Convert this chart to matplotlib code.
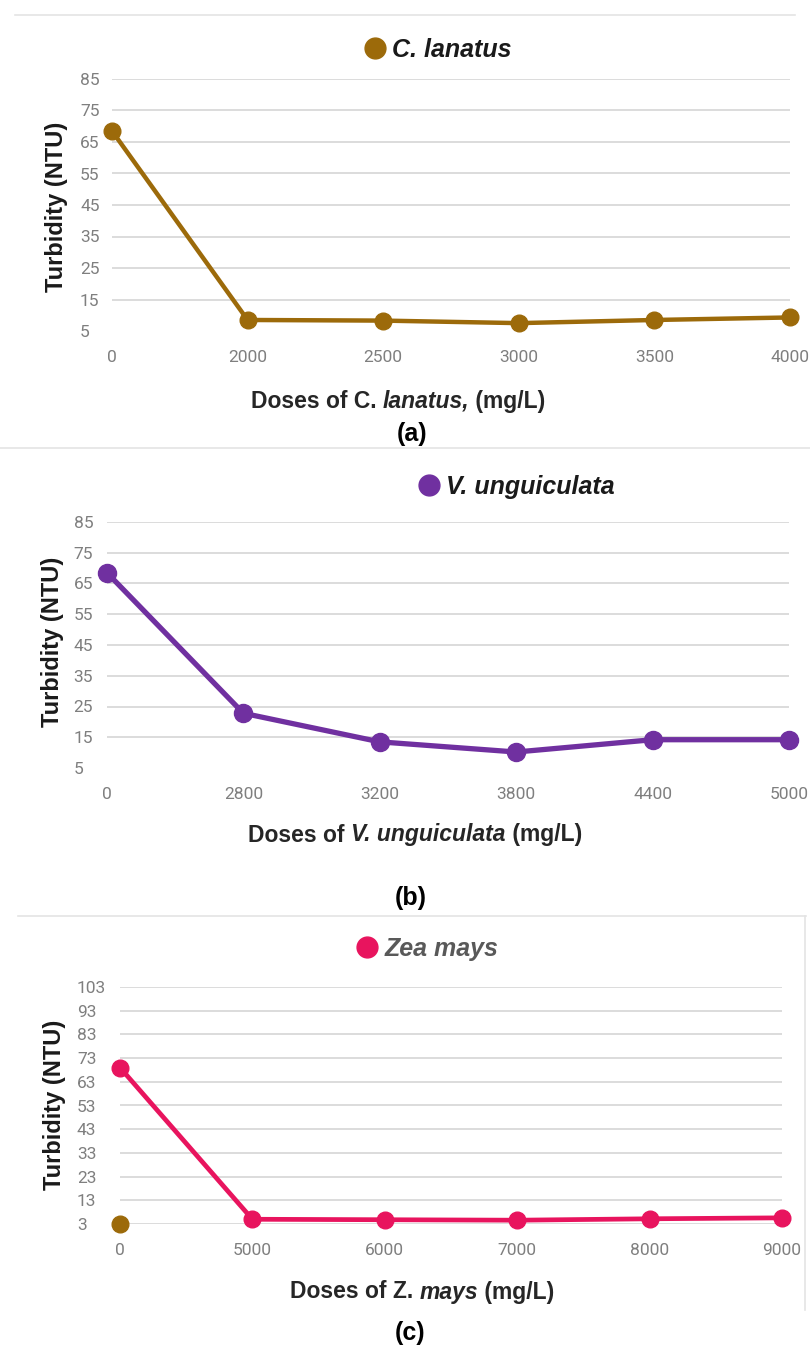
import matplotlib.pyplot as plt
from matplotlib.lines import Line2D

# panel (a) C. lanatus
doses_a = ['0', '2000', '2500', '3000', '3500', '4000']
turb_a = [68.5, 8.5, 8.3, 7.5, 8.5, 9.3]
yticks_a = [5, 15, 25, 35, 45, 55, 65, 75, 85]

# panel (b) V. unguiculata
doses_b = ['0', '2800', '3200', '3800', '4400', '5000']
turb_b = [68.5, 22.8, 13.5, 10.2, 14.2, 14.2]
yticks_b = [5, 15, 25, 35, 45, 55, 65, 75, 85]

# panel (c) Zea mays
doses_c = ['0', '5000', '6000', '7000', '8000', '9000']
turb_c = [69, 5.0, 4.8, 4.6, 5.2, 5.6]
yticks_c = [3, 13, 23, 33, 43, 53, 63, 73, 83, 93, 103]
stray_c = [3]  # brown dot sitting at dose 0

BROWN = '#9c6a0a'
PURPLE = '#7030a0'
PINK = '#e8145e'
GRID = '#dcdcdc'
TICK = '#7f7f7f'

TICKFONT = ['Roboto', 'DejaVu Sans']
SANS = ['Liberation Sans', 'DejaVu Sans']

W, H = 810, 1346
fig = plt.figure(figsize=(W / 100, H / 100), dpi=100)


def fx(px):
    return px / W


def fy(py):
    return 1 - py / H


def panel(rect, doses, turb, yticks, color, lw, ms, ypad):
    ax = fig.add_axes(rect)
    xs = list(range(len(doses)))
    ax.plot(xs, turb, color=color, lw=lw, marker='o', ms=ms, clip_on=False,
            solid_joinstyle='round', zorder=3)
    ax.set_xlim(0, len(doses) - 1)
    ax.set_ylim(yticks[0], yticks[-1])
    ax.set_xticks(xs)
    ax.set_xticklabels(doses, family=TICKFONT, fontsize=12.5, color=TICK)
    ax.set_yticks(yticks)
    ax.set_yticklabels([str(v) for v in yticks], family=TICKFONT, fontsize=12.5,
                       color=TICK, ha='left')
    ax.tick_params(axis='x', length=0, pad=14)
    ax.tick_params(axis='y', length=0, pad=ypad)
    ax.yaxis.grid(True, color=GRID, lw=1.4)
    ax.set_axisbelow(True)
    for s in ax.spines.values():
        s.set_visible(False)
    return ax


def legend(ax, color, text, mx, my, tcolor='#1a1a1a'):
    h = Line2D([], [], ls='none', marker='o', ms=15, color=color)
    ax.legend([h], [text], loc='center left', bbox_to_anchor=(fx(mx - 10), fy(my)),
              bbox_transform=fig.transFigure, frameon=False, handlelength=0.8,
              handletextpad=0.3, borderpad=0, borderaxespad=0,
              prop=dict(family=SANS, size=18, weight='bold', style='italic'),
              labelcolor=tcolor)


def ylabel(x, y):
    fig.text(fx(x), fy(y), 'Turbidity (NTU)', rotation=90, ha='center', va='center',
             family=SANS, fontsize=17, fontweight='bold', color='#1a1a1a')


def xlabel(x, y, parts):
    # parts: list of (text, italic) pieces, drawn side by side centred on x
    r = fig.canvas.get_renderer()
    objs = []
    for txt, it in parts:
        objs.append(fig.text(0, fy(y), txt, ha='left', va='center', family=SANS,
                             fontsize=16.5, fontweight='bold', color='#262626',
                             style='italic' if it else 'normal'))
    widths = [o.get_window_extent(r).width for o in objs]
    left = x - sum(widths) / 2
    for o, wd in zip(objs, widths):
        o.set_x(fx(left))
        left += wd


def caption(x, y, txt):
    fig.text(fx(x), fy(y), txt, ha='center', va='center', family=SANS,
             fontsize=18, fontweight='bold', color='black')


# (a)
ax_a = panel([fx(112), fy(331), fx(790) - fx(112), fy(79) - fy(331)],
             doses_a, turb_a, yticks_a, BROWN, 3.2, 12, 23)
ax_a.get_ygridlines()[0].set_visible(False)
legend(ax_a, BROWN, 'C. lanatus', 375, 50)
ylabel(57, 207)
xlabel(398, 401, [('Doses of C. ', False), ('lanatus,', True), (' (mg/L)', False)])
caption(412, 434, '(a)')

# (b)
ax_b = panel([fx(107), fy(768), fx(789) - fx(107), fy(522) - fy(768)],
             doses_b, turb_b, yticks_b, PURPLE, 3.8, 13, 24)
ax_b.get_ygridlines()[0].set_visible(False)
legend(ax_b, PURPLE, 'V. unguiculata', 429, 487)
ylabel(52, 642)
xlabel(415, 835, [('Doses of ', False), ('V. unguiculata', True), (' (mg/L)', False)])
caption(411, 898, '(b)')

# (c)
ax_c = panel([fx(120), fy(1224), fx(782) - fx(120), fy(987) - fy(1224)],
             doses_c, turb_c, yticks_c, PINK, 3.4, 12, 31)
ax_c.plot([0], stray_c, ls='none', marker='o', ms=12, color=BROWN, clip_on=False, zorder=4)
legend(ax_c, PINK, 'Zea mays', 367, 949, tcolor='#595959')
ylabel(54, 1105)
xlabel(422, 1292, [('Doses of ', False), ('Z. ', False), ('mays', True), (' (mg/L)', False)])
caption(410, 1333, '(c)')

# faint panel borders
SEP = '#e4e4e4'
fig.add_artist(Line2D([fx(15), fx(795)], [fy(15), fy(15)], color=SEP, lw=1.2))
fig.add_artist(Line2D([fx(0), fx(810)], [fy(448), fy(448)], color=SEP, lw=1.2))
fig.add_artist(Line2D([fx(18), fx(806)], [fy(916), fy(916)], color=SEP, lw=1.2))
fig.add_artist(Line2D([fx(805), fx(805)], [fy(916), fy(1310)], color=SEP, lw=1.2))

fig.savefig('out.png', dpi=100)
